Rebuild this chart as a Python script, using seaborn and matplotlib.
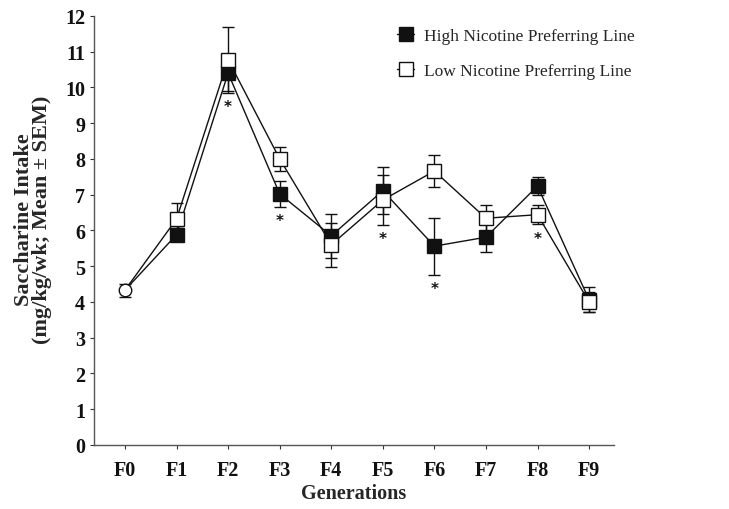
import numpy as np
import pandas as pd
import matplotlib
matplotlib.use("Agg")
import matplotlib.pyplot as plt
import seaborn as sns
from matplotlib.lines import Line2D

# ---------------------------------------------------------------------------
# Data
# ---------------------------------------------------------------------------
generations = ["F0", "F1", "F2", "F3", "F4", "F5", "F6", "F7", "F8", "F9"]

f0_mean = 4.33
f0_sem = 0.18

high_mean = [4.33, 5.88, 10.40, 7.02, 5.85, 7.11, 5.56, 5.81, 7.24, 4.06]
high_sem = [0.18, 0.18, 0.50, 0.36, 0.62, 0.66, 0.80, 0.42, 0.26, 0.35]

low_mean = [4.33, 6.32, 10.77, 8.00, 5.60, 6.85, 7.66, 6.34, 6.44, 4.00]
low_sem = [0.18, 0.45, 0.93, 0.34, 0.62, 0.70, 0.45, 0.37, 0.27, 0.27]

# generations with a significant difference (asterisk under the lower point)
sig_gens = ["F2", "F3", "F5", "F6", "F8"]

df = pd.DataFrame({
    "gen": generations * 2,
    "x": list(range(len(generations))) * 2,
    "mean": high_mean + low_mean,
    "sem": high_sem + low_sem,
    "line": ["High Nicotine Preferring Line"] * len(generations)
            + ["Low Nicotine Preferring Line"] * len(generations),
})

# ---------------------------------------------------------------------------
# Plot
# ---------------------------------------------------------------------------
sns.set_style("ticks")
plt.rcParams["font.family"] = ["Liberation Serif", "DejaVu Serif"]

fig = plt.figure(figsize=(7.29, 5.10), dpi=100)
ax = fig.add_axes([0.129, 0.1255, 0.713, 0.8415])

sns.lineplot(data=df, x="x", y="mean", units="line", estimator=None,
             color="#111111", linewidth=1.0, ax=ax, legend=False, sort=False)

styles = {
    "High Nicotine Preferring Line": dict(mfc="#111111", zorder=4),
    "Low Nicotine Preferring Line": dict(mfc="white", zorder=5),
}
for name, sub in df.groupby("line"):
    sub = sub[sub["gen"] != "F0"]
    ax.errorbar(sub["x"], sub["mean"], yerr=sub["sem"], fmt="s",
                ms=10.5, mec="#111111", mew=1.0, ecolor="#111111",
                elinewidth=1.0, capsize=4.5, capthick=1.0, **styles[name])

# founding generation
ax.errorbar([0], [f0_mean], yerr=[f0_sem], fmt="o", ms=9, mfc="white",
            mec="#111111", mew=1.0, ecolor="#111111", elinewidth=1.0,
            capsize=4.5, capthick=1.0, zorder=6)

# significance asterisks below lower error bar
for g in sig_gens:
    i = generations.index(g)
    lo = min(high_mean[i] - high_sem[i], low_mean[i] - low_sem[i])
    ax.annotate("*", (i, lo), xytext=(0, -10), textcoords="offset points",
                ha="center", va="center", fontsize=11, fontweight="bold",
                color="#111111", family="DejaVu Sans")

ax.set_xlim(-0.6, 9.48)
ax.set_ylim(0, 12)
ax.set_xticks(range(len(generations)))
ax.set_xticklabels(generations)
ax.set_yticks(range(0, 13))
ax.tick_params(axis="both", labelsize=14.5, length=3, width=0.8,
               colors="#333333", labelcolor="#111111")
for lbl in ax.get_xticklabels() + ax.get_yticklabels():
    lbl.set_fontweight("bold")
ax.tick_params(axis="x", pad=8)

ax.set_xlabel("Generations", fontsize=14.5, fontweight="bold", labelpad=2)
ax.set_ylabel("Saccharine Intake\n(mg/kg/wk; Mean ± SEM)", fontsize=16,
              fontweight="bold", linespacing=0.92)
ax.yaxis.set_label_coords(-0.08, 0.527)

sns.despine(ax=ax)
for s in ["left", "bottom"]:
    ax.spines[s].set_color("#555555")
    ax.spines[s].set_linewidth(1.0)

handles = [
    Line2D([0], [0], color="#111111", lw=1.0, marker="s", ms=10.5,
           mfc="#111111", mec="#111111"),
    Line2D([0], [0], color="#111111", lw=1.0, marker="s", ms=10.5,
           mfc="white", mec="#111111"),
]
ax.legend(handles, ["High Nicotine Preferring Line", "Low Nicotine Preferring Line"],
          loc="upper left", bbox_to_anchor=(0.553, 1.008), frameon=False,
          fontsize=12.5, handlelength=1.0, handletextpad=0.55, labelspacing=1.1)

fig.savefig("out.png", dpi=100)
